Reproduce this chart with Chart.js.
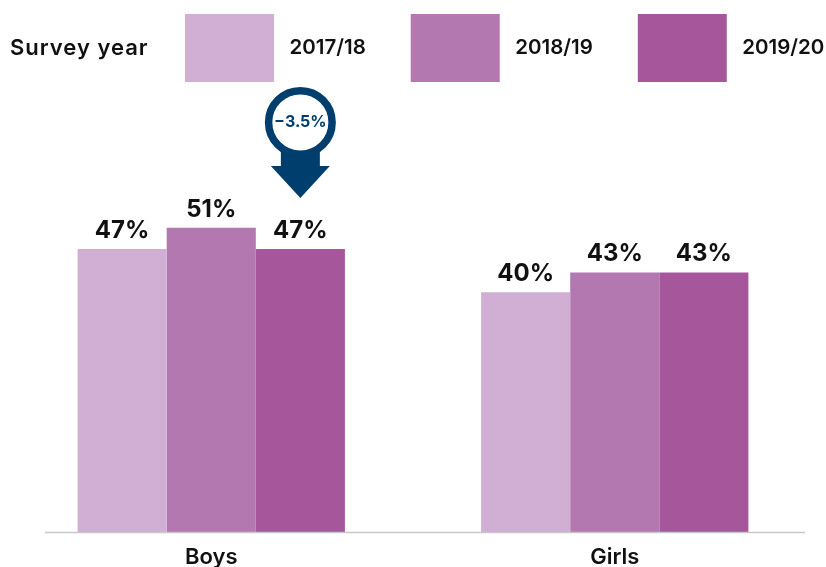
<!DOCTYPE html>
<html><head><meta charset="utf-8">
<style>html,body{margin:0;padding:0;background:#fff}#w{width:826px;height:567px;position:relative}</style>
<script src="https://cdn.jsdelivr.net/npm/chart.js@4"></script>
</head><body><div id="w"><canvas id="c"></canvas></div>
<script>
const categories = ['Boys', 'Girls'];
const years = ['2017/18', '2018/19', '2019/20'];
const v201718 = [47.1, 39.9];
const v201819 = [50.6, 43.2];
const v201920 = [47.1, 43.2];
const colours = ['#d1aed3', '#b378b0', '#a6579b'];
const legendTitle = 'Survey year';
const calloutText = '\u22123.5%';
const FONT = 'Inter, "Open Sans", sans-serif';
const INK = '#111111', NAVY = '#003e6e';

const labelsPlugin = {
  id: 'labelsPlugin',
  afterLayout(chart) {
    chart.legend.left = 140;
    chart.legend.right = 900;
    chart.legend.top = -31;
  },
  afterDatasetsDraw(chart) {
    const ctx = chart.ctx;
    ctx.save();
    ctx.fillStyle = INK;
    ctx.font = '700 24px ' + FONT;
    ctx.textAlign = 'center';
    ctx.textBaseline = 'alphabetic';
    chart.data.datasets.forEach((ds, i) => {
      chart.getDatasetMeta(i).data.forEach((bar, j) => {
        ctx.fillText(Math.round(ds.data[j]) + '%', bar.x, bar.y - 11);
      });
    });
    // axis line
    ctx.strokeStyle = '#c8c8c8';
    ctx.lineWidth = 1.5;
    const y0 = chart.scales.y.getPixelForValue(0);
    ctx.beginPath(); ctx.moveTo(45, y0); ctx.lineTo(805, y0); ctx.stroke();
    // callout
    const bar = chart.getDatasetMeta(2).data[0];
    const cx = bar.x, cy = bar.y - 126.5, r = 31.75;
    ctx.fillStyle = NAVY; ctx.strokeStyle = NAVY;
    ctx.beginPath();
    ctx.moveTo(cx - 19.5, cy + 25); ctx.lineTo(cx + 19.5, cy + 25); ctx.lineTo(cx + 19.5, cy + 43.5);
    ctx.lineTo(cx + 29.5, cy + 43.5); ctx.lineTo(cx, cy + 75.5); ctx.lineTo(cx - 29.5, cy + 43.5); ctx.lineTo(cx - 19.5, cy + 43.5);
    ctx.closePath(); ctx.fill();
    ctx.beginPath(); ctx.arc(cx, cy, r, 0, Math.PI * 2);
    ctx.fillStyle = '#fff'; ctx.fill();
    ctx.lineWidth = 7.5; ctx.stroke();
    ctx.fillStyle = NAVY;
    ctx.font = '700 16px ' + FONT;
    ctx.textBaseline = 'middle';
    ctx.fillText(calloutText, cx, cy);
    // legend title
    ctx.fillStyle = INK;
    ctx.textAlign = 'left';
    ctx.font = '600 22px ' + FONT;
    ctx.letterSpacing = '1px';
    ctx.fillText(legendTitle, 10, 48);
    ctx.restore();
  }
};

new Chart(document.getElementById('c'), {
  type: 'bar',
  data: {
    labels: categories,
    datasets: [
      { label: years[0], data: v201718, backgroundColor: colours[0] },
      { label: years[1], data: v201819, backgroundColor: colours[1] },
      { label: years[2], data: v201920, backgroundColor: colours[2] }
    ]
  },
  options: {
    responsive: true,
    maintainAspectRatio: false,
    animation: false,
    layout: { padding: { left: 9.5, right: 9.5, top: 0, bottom: -16 } },
    datasets: { bar: { categoryPercentage: 0.6625, barPercentage: 1 } },
    plugins: {
      tooltip: { enabled: false },
      legend: {
        position: 'top',
        align: 'start',
        onClick: null,
        labels: {
          boxWidth: 89, boxHeight: 68, padding: 45,
          color: INK,
          font: { family: FONT, size: 20.5, weight: '600' },
          generateLabels(chart) {
            return Chart.defaults.plugins.legend.labels.generateLabels(chart)
              .map(item => Object.assign(item, { text: ' ' + item.text }));
          }
        }
      }
    },
    scales: {
      x: {
        grid: { display: false, drawTicks: false },
        border: { display: false },
        ticks: { color: INK, padding: 12, font: { family: FONT, size: 22, weight: '600' } }
      },
      y: {
        display: false, min: 0, max: 68, grid: { display: false }
      }
    }
  },
  plugins: [labelsPlugin]
});
</script></body></html>
